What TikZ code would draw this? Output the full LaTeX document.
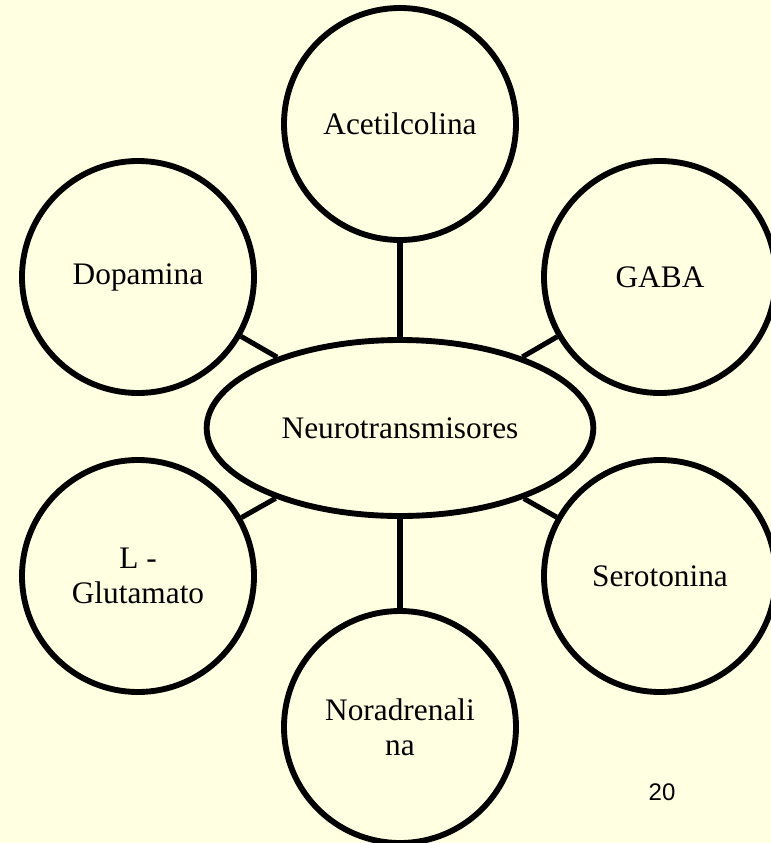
\documentclass[tikz,border=0pt]{standalone}
\usepackage{fontspec}
\setmainfont{Liberation Serif}
\newfontfamily\numfont{Liberation Sans}
\usetikzlibrary{shapes.geometric}
\definecolor{bg}{RGB}{255,255,225}
\begin{document}
\begin{tikzpicture}[x=0.75pt,y=-0.75pt,
  bubble/.style={circle,draw=black,line width=4.4pt,fill=bg,minimum size=174pt,inner sep=0pt,align=center,font=\fontsize{23.5}{26}\selectfont},
  hub/.style={ellipse,draw=black,line width=4.4pt,fill=bg,minimum width=290pt,minimum height=132pt,inner sep=0pt,font=\fontsize{23.5}{26}\selectfont},
  link/.style={line width=3.8pt}]
\fill[bg] (0,0) rectangle (771,843);
\useasboundingbox (0,0) rectangle (771,843);
\node[hub] (n) at (400,428) {Neurotransmisores};
\node[bubble] (ace) at (400,124) {Acetilcolina};
\node[bubble] (dop) at (138,277) {Dopamina};
\node[bubble] (gaba) at (660,277) {GABA};
\node[bubble] (glu) at (138,576) {L -\\Glutamato};
\node[bubble] (ser) at (660,576) {Serotonina};
\node[bubble] (nor) at (400,727) {Noradrenali\\na};
\draw[link] (ace) -- (n);
\draw[link] (dop) -- (n);
\draw[link] (gaba) -- (n);
\draw[link] (glu) -- (n);
\draw[link] (ser) -- (n);
\draw[link] (nor) -- (n);
\node[font=\numfont\fontsize{18}{20}\selectfont] (pg) at (662,792) {20};
\end{tikzpicture}
\end{document}
